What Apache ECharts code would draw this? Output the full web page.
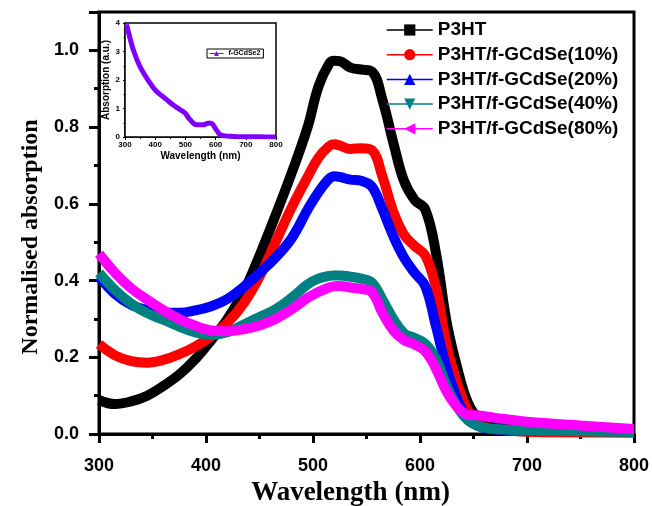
<!DOCTYPE html>
<html>
<head>
<meta charset="utf-8">
<script src="https://cdn.jsdelivr.net/npm/echarts@6/dist/echarts.min.js"></script>
<style>html,body{margin:0;padding:0;background:#fff}#c{width:652px;height:506px}</style>
</head>
<body>
<div id="c"></div>
<script>
// ---- data ----
var wavelengths = [300,315,330,345,360,375,390,405,420,435,450,465,480,495,505,515,520,525,535,545,555,565,575,585,595,605,615,625,635,645,655,670,700,750,800];
var p3ht   = [0.088,0.078,0.085,0.100,0.125,0.155,0.195,0.245,0.300,0.370,0.465,0.570,0.680,0.800,0.905,0.965,0.973,0.972,0.955,0.950,0.945,0.870,0.760,0.660,0.610,0.585,0.470,0.290,0.170,0.080,0.040,0.022,0.015,0.010,0.005];
var gcd10  = [0.234,0.205,0.190,0.186,0.193,0.208,0.228,0.255,0.290,0.340,0.410,0.500,0.590,0.670,0.720,0.750,0.755,0.752,0.743,0.745,0.740,0.670,0.580,0.520,0.490,0.465,0.380,0.230,0.130,0.060,0.025,0.012,0.006,0.004,0.003];
var gcd20  = [0.410,0.365,0.337,0.323,0.316,0.316,0.322,0.333,0.352,0.383,0.420,0.460,0.510,0.585,0.630,0.665,0.672,0.670,0.663,0.660,0.645,0.585,0.516,0.460,0.420,0.385,0.280,0.170,0.090,0.040,0.020,0.012,0.010,0.010,0.010];
var gcd40  = [0.420,0.375,0.340,0.315,0.298,0.280,0.265,0.258,0.265,0.285,0.305,0.325,0.355,0.390,0.405,0.412,0.413,0.413,0.410,0.405,0.395,0.350,0.300,0.263,0.250,0.235,0.195,0.125,0.070,0.035,0.020,0.013,0.010,0.007,0.005];
var gcd80  = [0.470,0.420,0.380,0.350,0.323,0.300,0.282,0.270,0.268,0.273,0.283,0.300,0.325,0.355,0.370,0.382,0.385,0.386,0.382,0.378,0.370,0.315,0.270,0.245,0.233,0.215,0.170,0.110,0.070,0.050,0.048,0.042,0.032,0.022,0.013];
var seriesNames = ['P3HT','P3HT/f-GCdSe(10%)','P3HT/f-GCdSe(20%)','P3HT/f-GCdSe(40%)','P3HT/f-GCdSe(80%)'];

var insetWavelengths = [305,314,328,350,383,399,410,438,460,482,499,515,537,559,570,581,590,598,607,615,630,659,700,750,800];
var insetAbs = [3.95,3.57,3.04,2.46,1.89,1.66,1.55,1.31,1.12,0.96,0.84,0.61,0.43,0.43,0.47,0.49,0.45,0.32,0.18,0.08,0.04,0.02,0.01,0.005,0.0];
var insetName = 'f-GCdSe2';

var xTicks = {min:300, max:800, interval:100};
var yTicks = {min:0, max:1.1, interval:0.2};

// ---- chart ----
function pairs(xs, ys){ return xs.map(function(x,i){ return [x, ys[i]]; }); }
var colors = ['#000000','#ff0000','#0000ff','#008080','#ff00ff'];
var symbols = ['rect','circle','triangle','path://M0,0 L10,0 L5,10 Z','path://M10,0 L10,10 L0,5 Z'];
var mainData = [p3ht,gcd10,gcd20,gcd40,gcd80];

var sans = 'Liberation Sans, Arial, sans-serif';
var serif = 'Liberation Serif, Times New Roman, serif';

var series = mainData.map(function(d,i){
  return {
    name: seriesNames[i], type:'line', xAxisIndex:0, yAxisIndex:0,
    data: pairs(wavelengths, d), smooth: 0.4, showSymbol:false,
    symbol: symbols[i], symbolSize: 13,
    lineStyle:{color:colors[i], width:10}, itemStyle:{color:colors[i]},
    emphasis:{disabled:true}, animation:false, z: 2+i
  };
});
series.push({
  name: insetName, type:'line', xAxisIndex:1, yAxisIndex:1,
  data: pairs(insetWavelengths, insetAbs), smooth:0.4, showSymbol:false,
  symbol:'triangle', symbolSize:6,
  lineStyle:{color:'#8000ff', width:5}, itemStyle:{color:'#8000ff'},
  emphasis:{disabled:true}, animation:false, z: 10
});

var option = {
  animation:false,
  grid:[
    {left:99, right:18, top:12, bottom:72, show:true, borderColor:'#000', borderWidth:3, backgroundColor:'#fff', containLabel:false, outerBoundsMode:'none'},
    {left:125, right:376, top:23, bottom:369, show:true, borderColor:'#000', borderWidth:1.5, backgroundColor:'#fff', z:5, containLabel:false, outerBoundsMode:'none'}
  ],
  xAxis:[
    {type:'value', gridIndex:0, min:xTicks.min, max:xTicks.max, interval:xTicks.interval,
     name:'Wavelength (nm)', nameLocation:'middle', nameGap:45,
     nameTextStyle:{fontFamily:serif, fontWeight:'bold', fontSize:27, color:'#000', padding:[0,32,0,0]},
     axisLine:{show:true, onZero:false, lineStyle:{color:'#000', width:3}},
     axisTick:{show:true, length:9, lineStyle:{width:3, color:'#000'}},
     minorTick:{show:true, splitNumber:2, length:5, lineStyle:{width:3, color:'#000'}},
     splitLine:{show:false},
     axisLabel:{fontFamily:sans, fontWeight:'bold', fontSize:18, color:'#000', margin:23}},
    {type:'value', gridIndex:1, min:xTicks.min, max:xTicks.max, interval:xTicks.interval,
     name:'Wavelength (nm)', nameLocation:'middle', nameGap:14,
     nameTextStyle:{fontFamily:sans, fontWeight:'bold', fontSize:10, color:'#000'},
     axisLine:{show:true, onZero:false, lineStyle:{color:'#000', width:1.5}},
     axisTick:{show:true, length:3, lineStyle:{width:1, color:'#000'}},
     minorTick:{show:true, splitNumber:2, length:2, lineStyle:{width:1, color:'#000'}},
     splitLine:{show:false},
     axisLabel:{fontFamily:sans, fontWeight:'bold', fontSize:8, color:'#000', margin:4}}
  ],
  yAxis:[
    {type:'value', gridIndex:0, min:yTicks.min, max:yTicks.max, interval:yTicks.interval,
     name:'Normalised absorption', nameLocation:'middle', nameGap:49,
     nameTextStyle:{fontFamily:serif, fontWeight:'bold', fontSize:24, color:'#000', padding:[0,28,0,0]},
     axisLine:{show:true, onZero:false, lineStyle:{color:'#000', width:3}},
     axisTick:{show:true, length:10, lineStyle:{width:3, color:'#000'}},
     minorTick:{show:true, splitNumber:2, length:5, lineStyle:{width:3, color:'#000'}},
     splitLine:{show:false},
     axisLabel:{fontFamily:sans, fontWeight:'bold', fontSize:18, color:'#000', margin:20, showMaxLabel:false,
       formatter:function(v){ return v.toFixed(1); }}},
    {type:'value', gridIndex:1, min:0, max:4, interval:1,
     name:'Absorption (a.u.)', nameLocation:'middle', nameGap:13,
     nameTextStyle:{fontFamily:sans, fontWeight:'bold', fontSize:10, color:'#000'},
     axisLine:{show:true, onZero:false, lineStyle:{color:'#000', width:1.5}},
     axisTick:{show:true, length:2, lineStyle:{width:1, color:'#000'}},
     minorTick:{show:true, splitNumber:2, length:1.5, lineStyle:{width:1, color:'#000'}},
     splitLine:{show:false},
     axisLabel:{fontFamily:sans, fontWeight:'bold', fontSize:8, color:'#000', margin:5}}
  ],
  legend:[
    {data:seriesNames, orient:'vertical', left:381, top:15, itemWidth:46, itemHeight:14, itemGap:4.7,
     lineStyle:{width:1.5}, selectedMode:false,
     textStyle:{fontFamily:sans, fontWeight:'bold', fontSize:19, color:'#000', lineHeight:20}},
    {data:[insetName], orient:'vertical', left:207, top:49, itemWidth:14, itemHeight:6, itemGap:0,
     padding:[1,3,1,2], borderColor:'#000', borderWidth:1, lineStyle:{width:1}, selectedMode:false, z:12,
     textStyle:{fontFamily:sans, fontWeight:'bold', fontSize:7, color:'#000'}}
  ],
  series: series
};
var chart = echarts.init(document.getElementById('c'), null, {renderer:'canvas'});
chart.setOption(option);
</script>
</body>
</html>
